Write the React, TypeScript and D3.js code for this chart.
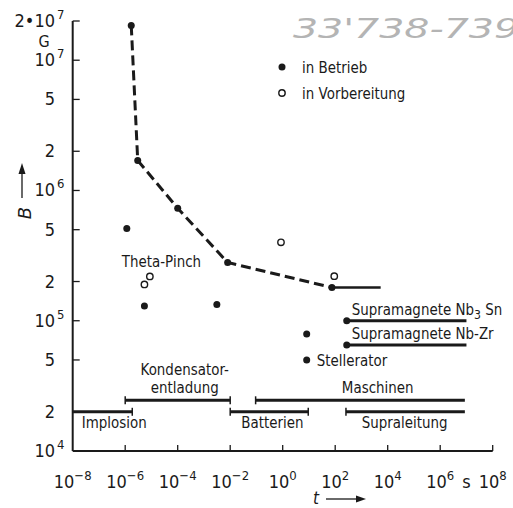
import React from "react";
import * as d3 from "d3";

const W = 513;
const H = 508;

// dashed envelope (filled points on the line)
const lineT = [1.7e-6, 3e-6, 1e-4, 8e-3, 75];
const lineB = [1.85e7, 1.7e6, 7.3e5, 2.8e5, 1.8e5];
const lineTailEnd = 5.4e3;

// in Betrieb (filled)
const betriebT = [1.15e-6, 5.4e-6, 3.1e-3, 8.2, 8.2];
const betriebB = [5.1e5, 1.3e5, 1.33e5, 7.9e4, 5e4];

// in Vorbereitung (open)
const vorbT = [5.4e-6, 8.7e-6, 0.86, 92];
const vorbB = [1.9e5, 2.19e5, 4e5, 2.2e5];

// Supramagnete
const supraNames = ["Nb3Sn", "Nb-Zr"];
const supraT0 = [275, 275];
const supraT1 = [1e7, 1e7];
const supraB = [1e5, 6.5e4];

// range bars
const rangeNames = ["Implosion", "Kondensatorentladung", "Batterien", "Maschinen", "Supraleitung"];
const rangeT0 = [1e-8, 1e-6, 1e-2, 0.093, 257];
const rangeT1 = [1.86e-6, 1e-2, 9.4, 8.7e6, 8.7e6];
const rangeB = [2e4, 2.45e4, 2e4, 2.45e4, 2e4];
const rangeCapL = [false, true, true, true, true];
const rangeCapR = [true, true, true, false, false];

const xTickExp = [-8, -6, -4, -2, 0, 2, 4, 6, 8];
const yTicks = [2e7, 1e7, 5e6, 2e6, 1e6, 5e5, 2e5, 1e5, 5e4, 2e4, 1e4];

const FONT = "'DejaVu Sans', sans-serif";
const INK = "#1a1a1a";
const SX = 0.84;

function T(props: { x: number; y: number; size?: number; anchor?: string; italic?: boolean; sx?: number; children: React.ReactNode }) {
  const { x, y, size = 16, anchor = "start", italic = false, sx = SX, children } = props;
  return (
    <text
      transform={`translate(${x},${y}) scale(${sx},1)`}
      fontSize={size}
      textAnchor={anchor}
      fontStyle={italic ? "italic" : "normal"}
      fill={INK}
    >
      {children}
    </text>
  );
}

export default function App() {
  const x = d3.scaleLog().domain([1e-8, 1e8]).range([72.7, 492.7]);
  const y = d3.scaleLog().domain([1e4, 2e7]).range([451, 21]);

  const dashPts = lineT.map((t, i) => [x(t), y(lineB[i])] as [number, number]);
  const line = d3.line();

  const yLabel = (v: number) => {
    const e = Math.round(Math.log10(v));
    if (Math.abs(v - Math.pow(10, e)) < 1e-6 * v) return { main: "10", exp: String(e) };
    const m = Math.round(v / Math.pow(10, Math.floor(Math.log10(v))));
    return { main: String(m), exp: "" };
  };

  return (
    <div style={{ position: "absolute", left: 0, top: 0 }}>
      <svg width={W} height={H} style={{ display: "block", background: "#fff" }} fontFamily={FONT}>
        {/* handwritten archive number */}
        <text x={293} y={38} fontSize={27} fill="#b4b4b4" fontStyle="italic" fontFamily="'DejaVu Sans', sans-serif" textLength={226} lengthAdjust="spacingAndGlyphs">
          33'738-739
        </text>

        {/* axes */}
        <line x1={x(1e-8)} x2={x(1e-8)} y1={y(1e4)} y2={y(2e7)} stroke={INK} strokeWidth={2} />
        <line x1={x(1e-8)} x2={x(1e8)} y1={y(1e4)} y2={y(1e4)} stroke={INK} strokeWidth={2} />
        {yTicks.filter((v) => v !== 1e4).map((v) => (
          <line key={"yt" + v} x1={x(1e-8)} x2={x(1e-8) + 7} y1={y(v)} y2={y(v)} stroke={INK} strokeWidth={1.3} />
        ))}
        {xTickExp.filter((e) => e !== -8).map((e) => (
          <line key={"xt" + e} x1={x(Math.pow(10, e))} x2={x(Math.pow(10, e))} y1={y(1e4)} y2={y(1e4) - 6} stroke={INK} strokeWidth={1.3} />
        ))}

        {/* y tick labels */}
        {yTicks.map((v) => {
          const yy = y(v);
          if (v === 2e7) {
            return (
              <g key={"yl" + v}>
                <T x={55} y={yy + 6} size={18} anchor="end" sx={0.9}>2•10</T>
                <T x={57} y={yy - 2} size={13} sx={0.9}>7</T>
              </g>
            );
          }
          const l = yLabel(v);
          return (
            <g key={"yl" + v}>
              <T x={55} y={yy + 6} size={18} anchor="end" sx={0.9}>{l.main}</T>
              {l.exp && <T x={57} y={yy - 2} size={13} sx={0.9}>{l.exp}</T>}
            </g>
          );
        })}
        <T x={44} y={47} size={16} anchor="middle" sx={0.9}>G</T>

        {/* x tick labels */}
        {xTickExp.map((e) => (
          <T key={"xl" + e} x={x(Math.pow(10, e))} y={488} size={18} anchor="middle" sx={0.9}>
            10<tspan dy={-8} fontSize={13}>{e < 0 ? "\u2212" + Math.abs(e) : String(e)}</tspan>
          </T>
        ))}
        <T x={x(Math.pow(10, 7))} y={488} size={18} anchor="middle" sx={0.9}>s</T>

        {/* axis titles */}
        <T x={316} y={504} size={17} italic anchor="middle" sx={0.9}>t</T>
        <line x1={326} x2={358} y1={499} y2={499} stroke={INK} strokeWidth={1.3} />
        <path d="M356,495.5 L366,499 L356,502.5 Z" fill={INK} />
        <text transform="translate(31,213) rotate(-90)" fontSize={18} fontStyle="italic" textAnchor="middle" fill={INK}>B</text>
        <line x1={22} x2={22} y1={198} y2={172} stroke={INK} strokeWidth={1.3} />
        <path d="M18.5,174 L22,163 L25.5,174 Z" fill={INK} />

        {/* dashed envelope */}
        <path d={line(dashPts) || ""} fill="none" stroke={INK} strokeWidth={3} strokeDasharray="10,5" />
        <line x1={x(lineT[lineT.length - 1])} x2={x(lineTailEnd)} y1={y(lineB[lineB.length - 1])} y2={y(lineB[lineB.length - 1])} stroke={INK} strokeWidth={2.5} />
        {dashPts.map((p, i) => (
          <circle key={"dp" + i} cx={p[0]} cy={p[1]} r={3.5} fill={INK} />
        ))}

        {/* in Betrieb */}
        {betriebT.map((t, i) => (
          <circle key={"b" + i} cx={x(t)} cy={y(betriebB[i])} r={3.5} fill={INK} />
        ))}
        {/* in Vorbereitung */}
        {vorbT.map((t, i) => (
          <circle key={"v" + i} cx={x(t)} cy={y(vorbB[i])} r={3.2} fill="#fff" stroke={INK} strokeWidth={1.4} />
        ))}

        {/* legend */}
        <circle cx={282} cy={67} r={3.5} fill={INK} />
        <T x={302} y={73} size={16}>in Betrieb</T>
        <circle cx={282} cy={93} r={3.2} fill="#fff" stroke={INK} strokeWidth={1.4} />
        <T x={302} y={99} size={16}>in Vorbereitung</T>

        {/* point labels */}
        <T x={x(1.15e-6) - 5} y={267} size={16}>Theta-Pinch</T>
        <T x={x(8.2) + 10} y={y(5e4) + 6} size={16}>Stellerator</T>

        {/* Supramagnete */}
        {supraNames.map((n, i) => (
          <g key={"s" + i}>
            <line x1={x(supraT0[i])} x2={x(supraT1[i])} y1={y(supraB[i])} y2={y(supraB[i])} stroke={INK} strokeWidth={3} />
            <circle cx={x(supraT0[i])} cy={y(supraB[i])} r={3.5} fill={INK} />
            <T x={x(supraT0[i]) + 5} y={y(supraB[i]) - 6} size={16}>
              {i === 0 ? (
                <>Supramagnete  Nb<tspan dy={4} fontSize={13}>3</tspan><tspan dy={-4}> Sn</tspan></>
              ) : (
                <>Supramagnete  Nb-Zr</>
              )}
            </T>
          </g>
        ))}

        {/* range bars */}
        {rangeNames.map((n, i) => {
          const x0 = x(rangeT0[i]);
          const x1 = x(rangeT1[i]);
          const yy = y(rangeB[i]);
          return (
            <g key={"r" + i}>
              <line x1={x0} x2={x1} y1={yy} y2={yy} stroke={INK} strokeWidth={3} />
              {rangeCapL[i] && <line x1={x0} x2={x0} y1={yy - 4} y2={yy + 4} stroke={INK} strokeWidth={1.5} />}
              {rangeCapR[i] && <line x1={x1} x2={x1} y1={yy - 4} y2={yy + 4} stroke={INK} strokeWidth={1.5} />}
            </g>
          );
        })}
        <T x={x(1e-8) + 9} y={428} size={16}>Implosion</T>
        <T x={x(1e-4) + 7} y={375} size={16} anchor="middle">Kondensator-</T>
        <T x={x(1e-4) + 7} y={393} size={16} anchor="middle">entladung</T>
        <T x={x(1e-2) + 11} y={428} size={16}>Batterien</T>
        <T x={x(3e2) + 30} y={393} size={16} anchor="middle">Maschinen</T>
        <T x={x(1e4) + 17} y={428} size={16} anchor="middle">Supraleitung</T>
      </svg>
    </div>
  );
}
